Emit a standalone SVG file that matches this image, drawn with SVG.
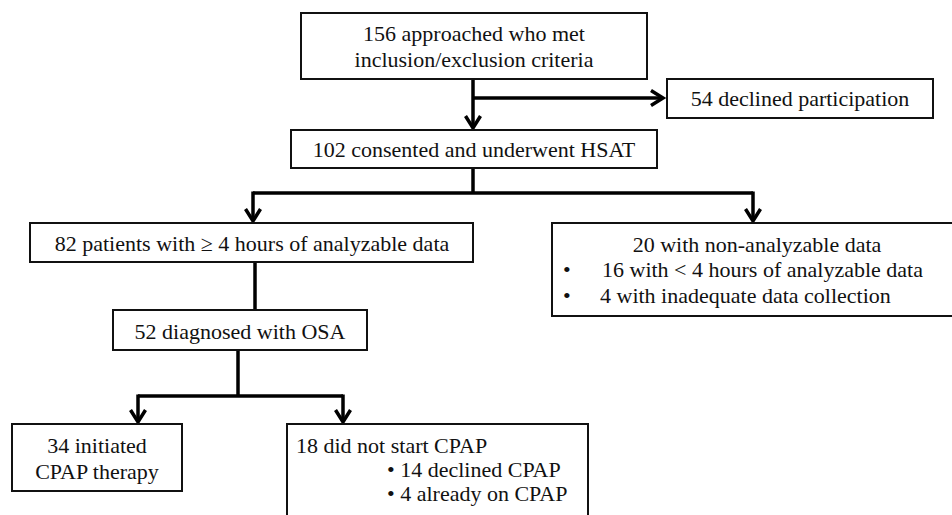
<svg xmlns="http://www.w3.org/2000/svg" width="952" height="515" viewBox="0 0 952 515">
<defs>
<style>
.box{fill:#fff;stroke:#111;stroke-width:2}
.t{font-family:'Liberation Serif','Tinos','DejaVu Serif',serif;font-size:22px;fill:#111}
.c{text-anchor:middle}
.con{fill:none;stroke:#000;stroke-width:3.5}
</style>
<marker id="ah" markerUnits="userSpaceOnUse" markerWidth="20" markerHeight="20" refX="14" refY="9" orient="auto" overflow="visible">
<path d="M2,1.5 L14,9 L2,16.5" fill="none" stroke="#000" stroke-width="3.5" stroke-linejoin="miter"/>
</marker>
</defs>
<rect width="952" height="515" fill="#fff"/>
<g id="connectors">
<path class="con" d="M473,79 V128" marker-end="url(#ah)"/>
<path class="con" d="M473,98 H663" marker-end="url(#ah)"/>
<path class="con" d="M473,168 V193"/>
<path class="con" d="M253,193 H753"/>
<path class="con" d="M253,191.5 V221" marker-end="url(#ah)"/>
<path class="con" d="M753,191.5 V221" marker-end="url(#ah)"/>
<path class="con" d="M255,262 V310"/>
<path class="con" d="M238,350 V396"/>
<path class="con" d="M138,396 H343"/>
<path class="con" d="M138,394.5 V422" marker-end="url(#ah)"/>
<path class="con" d="M343,394.5 V422" marker-end="url(#ah)"/>
</g>
<g id="n1">
<rect class="box" x="301" y="13" width="346" height="66"/>
<text class="t c" x="474" y="41" font-family="Liberation Serif, serif">156 approached who met</text>
<text class="t c" x="474" y="67">inclusion/exclusion criteria</text>
</g>
<g id="n2">
<rect class="box" x="667" y="79" width="266" height="39"/>
<text class="t c" x="800" y="106">54 declined participation</text>
</g>
<g id="n3">
<rect class="box" x="291" y="130" width="366" height="38"/>
<text class="t c" x="474" y="157">102 consented and underwent HSAT</text>
</g>
<g id="n4">
<rect class="box" x="30" y="223" width="443" height="39"/>
<text class="t c" x="252" y="251">82 patients with ≥ 4 hours of analyzable data</text>
</g>
<g id="n5">
<rect class="box" x="552" y="223" width="410" height="93"/>
<text class="t c" x="757" y="252">20 with non-analyzable data</text>
<text class="t" x="563" y="277">•</text>
<text class="t" x="602" y="277">16 with &lt; 4 hours of analyzable data</text>
<text class="t" x="563" y="303">•</text>
<text class="t" x="600" y="303">4 with inadequate data collection</text>
</g>
<g id="n6">
<rect class="box" x="113" y="310" width="254" height="40"/>
<text class="t c" x="240" y="339">52 diagnosed with OSA</text>
</g>
<g id="n7">
<rect class="box" x="12" y="424" width="170" height="67"/>
<text class="t c" x="97" y="453">34 initiated</text>
<text class="t c" x="97" y="479">CPAP therapy</text>
</g>
<g id="n8">
<rect class="box" x="287" y="424" width="301" height="100"/>
<text class="t" x="296" y="453">18 did not start CPAP</text>
<text class="t" x="387" y="477">• 14 declined CPAP</text>
<text class="t" x="387" y="501">• 4 already on CPAP</text>
</g>
</svg>
